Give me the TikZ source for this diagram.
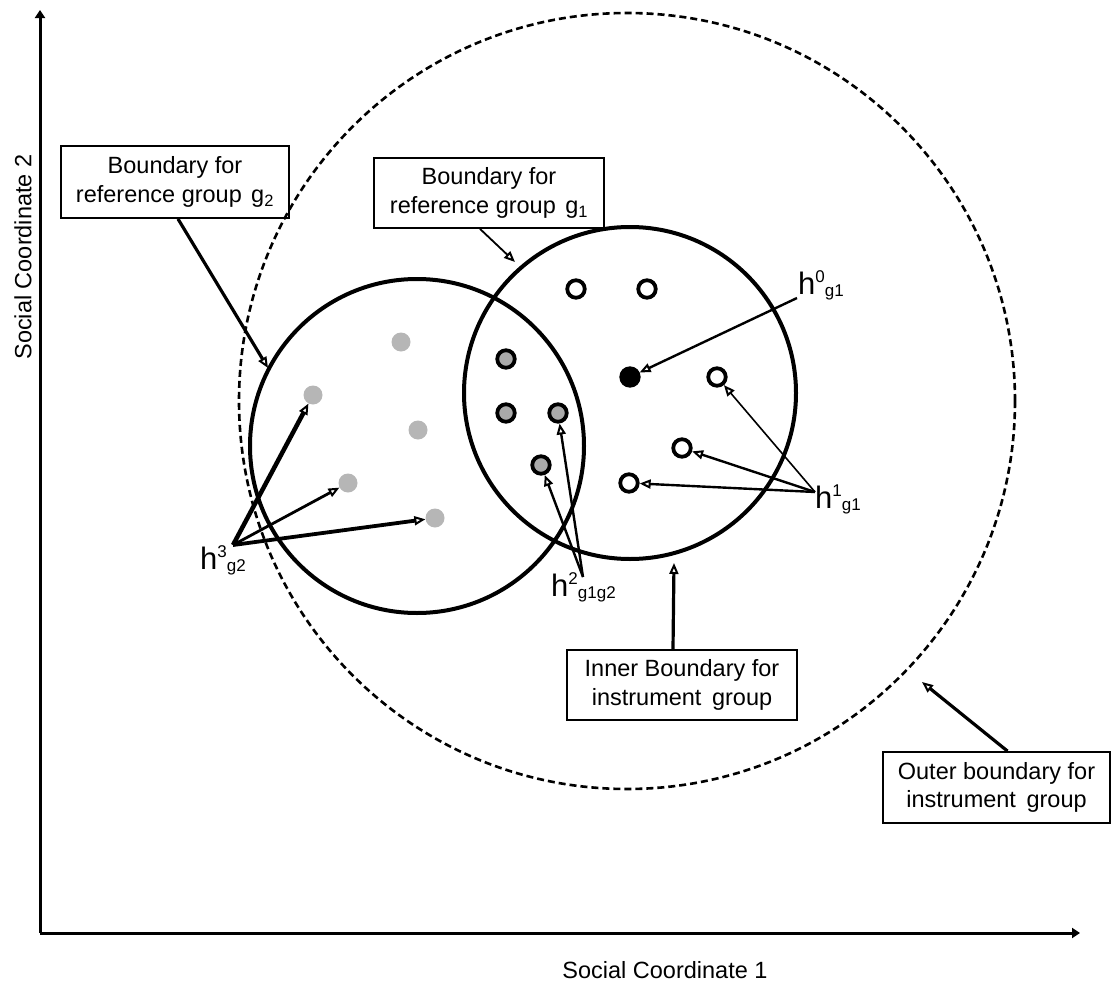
\documentclass[tikz,border=0pt]{standalone}
\usepackage{fontspec}
\setmainfont{Liberation Sans}
\usetikzlibrary{arrows.meta}
\definecolor{midgray}{RGB}{170,170,170}
\definecolor{lightdot}{RGB}{182,182,182}
\newcommand{\mkh}[2]{{\fontsize{31pt}{31pt}\selectfont h}\raisebox{12pt}{\fontsize{17pt}{17pt}\selectfont #1}\raisebox{-2pt}{\fontsize{17pt}{17pt}\selectfont #2}}
\begin{document}
\begin{tikzpicture}[x=1pt,y=-1pt,
  axisline/.style={line width=3pt,-{Triangle[length=8pt,width=10pt]}},
  outerb/.style={line width=2.6pt,dash pattern=on 7pt off 4pt},
  innerb/.style={line width=4pt},
  labelbox/.style={draw,line width=1.8pt,align=center,inner sep=0pt,
    font=\fontsize{23.5pt}{28.5pt}\selectfont},
  axlab/.style={font=\fontsize{23.5pt}{28.5pt}\selectfont,inner sep=0pt},
  hlab/.style={inner sep=0pt,anchor=base west},
  opendot/.style={circle,draw,line width=3.8pt,fill=white,minimum size=17.5pt,inner sep=0pt},
  graydot/.style={circle,draw,line width=3.8pt,fill=midgray,minimum size=17.5pt,inner sep=0pt},
  blackdot/.style={circle,draw,line width=3.8pt,fill=black,minimum size=17.5pt,inner sep=0pt},
  lightdot/.style={circle,fill=lightdot,minimum size=19pt,inner sep=0pt},
  ptr/.style={-{Triangle[open,length=11pt,width=9pt,line width=2pt]},line width=2.4pt}
]
\useasboundingbox (0,0) rectangle (1112,985);

% axes
\coordinate (O) at (40,933);
\coordinate (Ytip) at (40,10);
\coordinate (Xtip) at (1080,933);
\draw[axisline] (O) -- (Ytip);
\draw[axisline] (O) -- (Xtip);
\node[axlab] (xlab) at (665,970) {Social Coordinate 1};
\node[axlab,rotate=90] (ylab) at (23,257) {Social Coordinate 2};

% boundaries
\draw[outerb] (627,401) circle[radius=388pt];
\draw[innerb] (630,393) circle[radius=166pt];
\draw[innerb] (417,446) circle[radius=167pt];

% light gray dots (group g2 only)
\node[lightdot] (l1) at (401,342) {};
\node[lightdot] (l2) at (313,395) {};
\node[lightdot] (l3) at (418,430) {};
\node[lightdot] (l4) at (348,483) {};
\node[lightdot] (l5) at (435,518) {};

% gray dots (g1 and g2)
\node[graydot] (m1) at (506,359) {};
\node[graydot] (m2) at (506,413) {};
\node[graydot] (m3) at (558,413) {};
\node[graydot] (m4) at (541,465) {};

% open dots (g1)
\node[opendot] (o1) at (576,289) {};
\node[opendot] (o2) at (647,289) {};
\node[opendot] (o3) at (717,377) {};
\node[opendot] (o4) at (682,448) {};
\node[opendot] (o5) at (629,483) {};

% black dot
\node[blackdot] (b0) at (630,377) {};

% h labels
\node[hlab] (h0) at (798,294) {\mkh{0}{g1}};
\node[hlab] (h1) at (815,508) {\mkh{1}{g1}};
\node[hlab] (h2) at (551,596) {\mkh{2}{g1g2}};
\node[hlab] (h3) at (200,569) {\mkh{3}{g2}};

\coordinate (h0c) at (797,298);
\coordinate (h1c) at (815,492);
\coordinate (h2c) at (583,577);
\coordinate (h3c) at (233,545);

\draw[ptr] (h0c) -- (b0);
\draw[ptr,line width=1.6pt] (h1c) -- (o3);
\draw[ptr] (h1c) -- (o4);
\draw[ptr] (h1c) -- (o5);
\draw[ptr] (h2c) -- (m4);
\draw[ptr] (h2c) -- (m3);
\draw[ptr,line width=4.5pt] (h3c) -- (l2);
\draw[ptr,line width=2.8pt] (h3c) -- (l4);
\draw[ptr,line width=3.8pt] (h3c) -- (l5);

% boxes
\node[labelbox,minimum width=228pt,minimum height=72pt] (g2box) at (175,182)
  {Boundary for\\reference group\hspace{0.4em}g\textsubscript{2}};
\node[labelbox,minimum width=230pt,minimum height=70pt] (g1box) at (489,193)
  {Boundary for\\reference group\hspace{0.4em}g\textsubscript{1}};
\node[labelbox,minimum width=230pt,minimum height=70pt] (inbox) at (682,685)
  {Inner Boundary for\\instrument\hspace{0.45em}group};
\node[labelbox,minimum width=227pt,minimum height=71pt] (outbox) at (996.5,787.5)
  {Outer boundary for\\instrument\hspace{0.45em}group};

\coordinate (t2) at (268,368);
\coordinate (t1) at (515,262);
\coordinate (ti) at (674,563);
\coordinate (to) at (922,682);

\draw[ptr,line width=3.2pt] ([xshift=3pt]g2box.south) -- (t2);
\draw[ptr,line width=1.8pt] ([xshift=-9pt]g1box.south) -- (t1);
\draw[ptr,line width=3.2pt] ([xshift=-9pt]inbox.north) -- (ti);
\draw[ptr,line width=3.2pt] ([xshift=11pt]outbox.north) -- (to);
\end{tikzpicture}
\end{document}
